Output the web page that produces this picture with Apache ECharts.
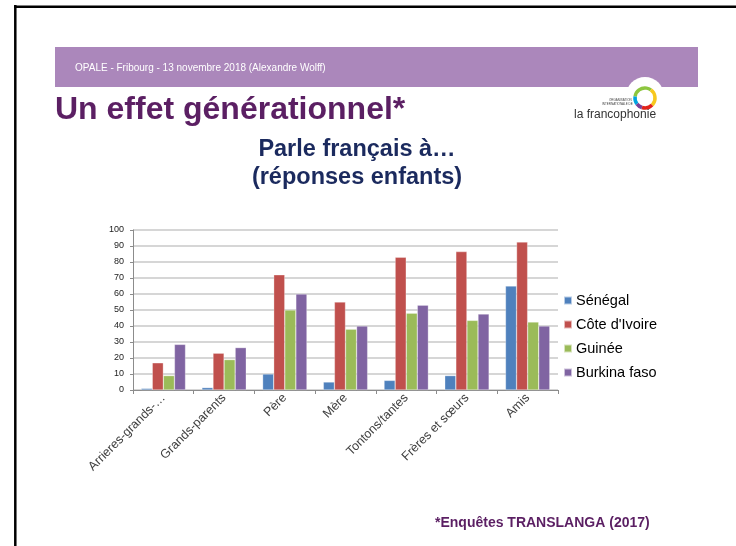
<!DOCTYPE html>
<html>
<head>
<meta charset="utf-8">
<script src="https://cdn.jsdelivr.net/npm/echarts@6/dist/echarts.min.js"></script>
<style>
  html, body { margin: 0; padding: 0; background: #fff; }
  #chart { width: 736px; height: 546px; }
</style>
</head>
<body>
<div id="chart"></div>
<script>
// données
const categories = ['Arrieres-grands-…', 'Grands-parents', 'Père', 'Mère', 'Tontons/tantes', 'Frères et sœurs', 'Amis'];
const senegal = [1, 1.5, 10, 5, 6, 9, 65];
const coteIvoire = [17, 23, 72, 55, 83, 86.5, 92.5];
const guinee = [9, 19, 50, 38, 48, 43.5, 42.5];
const burkina = [28.5, 26.5, 60, 40, 53, 47.5, 40];
const yTicks = [0, 10, 20, 30, 40, 50, 60, 70, 80, 90, 100];

const chart = echarts.init(document.getElementById('chart'));

const mkSeries = (name, data, color) => ({
  name: name,
  type: 'bar',
  data: data,
  barGap: '0%',
  barCategoryGap: '27%',
  itemStyle: { color: color, borderColor: 'rgba(255,255,255,0.6)', borderWidth: 0.5 }
});

const option = {
  animation: false,
  backgroundColor: '#fff',
  title: {
    text: 'Parle français à…\n(réponses enfants)',
    left: 352,
    top: 131,
    textAlign: 'center',
    textStyle: {
      fontFamily: 'Liberation Sans, Arial',
      fontWeight: 'bold',
      fontSize: 23.5,
      lineHeight: 28,
      color: '#1b2a5e'
    }
  },
  legend: {
    orient: 'vertical',
    left: 558,
    top: 288,
    itemWidth: 8,
    itemHeight: 8,
    itemGap: 9,
    icon: 'rect',
    textStyle: { fontFamily: 'Liberation Sans, Arial', fontSize: 14.5, color: '#000', padding: [0, 0, 0, -1] },
    data: ['Sénégal', "Côte d'Ivoire", 'Guinée', 'Burkina faso']
  },
  grid: { left: 133, right: 178, top: 230, bottom: 156 },
  xAxis: {
    type: 'category',
    data: categories,
    axisLine: { lineStyle: { color: '#8c8c8c', width: 1 } },
    axisTick: { show: true, length: 4, lineStyle: { color: '#8c8c8c' } },
    axisLabel: {
      rotate: 45,
      interval: 0,
      margin: 6,
      fontFamily: 'Liberation Sans, Arial',
      fontSize: 12.5,
      color: '#404040'
    }
  },
  yAxis: {
    type: 'value',
    min: yTicks[0],
    max: yTicks[yTicks.length - 1],
    interval: 10,
    axisLine: { show: true, lineStyle: { color: '#8c8c8c' } },
    axisTick: { show: true, length: 3, lineStyle: { color: '#8c8c8c' } },
    splitLine: { lineStyle: { color: '#d6d6d6', width: 2 } },
    axisLabel: {
      margin: 9,
      fontFamily: 'Liberation Sans, Arial',
      fontSize: 9,
      color: '#222'
    }
  },
  series: [
    mkSeries('Sénégal', senegal, '#4f81bd'),
    mkSeries("Côte d'Ivoire", coteIvoire, '#c0504d'),
    mkSeries('Guinée', guinee, '#9bbb59'),
    mkSeries('Burkina faso', burkina, '#8064a2')
  ],
  graphic: [
    // cadre
    { type: 'line', shape: { x1: 15.3, y1: 5, x2: 15.3, y2: 546 }, style: { stroke: '#000', lineWidth: 2.5 } },
    { type: 'line', shape: { x1: 14, y1: 6.7, x2: 736, y2: 6.7 }, style: { stroke: '#000', lineWidth: 2.5 } },
    // bandeau
    { type: 'rect', shape: { x: 55, y: 47, width: 643, height: 40 }, style: { fill: '#ab87bb' } },
    { type: 'text', left: 75, top: 63, style: { text: 'OPALE - Fribourg - 13 novembre 2018 (Alexandre Wolff)', fill: '#fff', font: '10px "Liberation Sans", Arial' } },
    // logo
    { type: 'circle', shape: { cx: 645, cy: 96, r: 19 }, style: { fill: '#fff' } },
    { type: 'arc', shape: { cx: 645, cy: 98, r: 10, startAngle: -Math.PI * 0.95, endAngle: -Math.PI * 0.3 }, style: { stroke: '#8dc63f', lineWidth: 3.5, fill: null } },
    { type: 'arc', shape: { cx: 645, cy: 98, r: 10, startAngle: -Math.PI * 0.3, endAngle: Math.PI * 0.25 }, style: { stroke: '#f7c81e', lineWidth: 3.5, fill: null } },
    { type: 'arc', shape: { cx: 645, cy: 98, r: 10, startAngle: Math.PI * 0.25, endAngle: Math.PI * 0.6 }, style: { stroke: '#e2231a', lineWidth: 3.5, fill: null } },
    { type: 'arc', shape: { cx: 645, cy: 98, r: 10, startAngle: Math.PI * 0.6, endAngle: Math.PI * 0.8 }, style: { stroke: '#7b3f98', lineWidth: 3.5, fill: null } },
    { type: 'arc', shape: { cx: 645, cy: 98, r: 10, startAngle: Math.PI * 0.8, endAngle: Math.PI * 1.05 }, style: { stroke: '#00a3e0', lineWidth: 3.5, fill: null } },
    { type: 'text', left: 609, top: 99, style: { text: 'ORGANISATION', fill: '#444', font: '3px "Liberation Sans", Arial' } },
    { type: 'text', left: 602, top: 103, style: { text: 'INTERNATIONALE DE', fill: '#444', font: '3px "Liberation Sans", Arial' } },
    { type: 'text', left: 574, top: 109, style: { text: 'la francophonie', fill: '#333', font: '12px "Liberation Sans Narrow", "Liberation Sans", Arial' } },
    // titre
    { type: 'text', left: 55, top: 94, style: { text: 'Un effet générationnel*', fill: '#5b1f63', font: 'bold 32px "Liberation Sans", Arial' } },
    // source
    { type: 'text', left: 435, top: 516, style: { text: '*Enquêtes TRANSLANGA (2017)', fill: '#5b1f63', font: 'bold 14px "Liberation Sans", Arial' } }
  ]
};

chart.setOption(option);
</script>
</body>
</html>
